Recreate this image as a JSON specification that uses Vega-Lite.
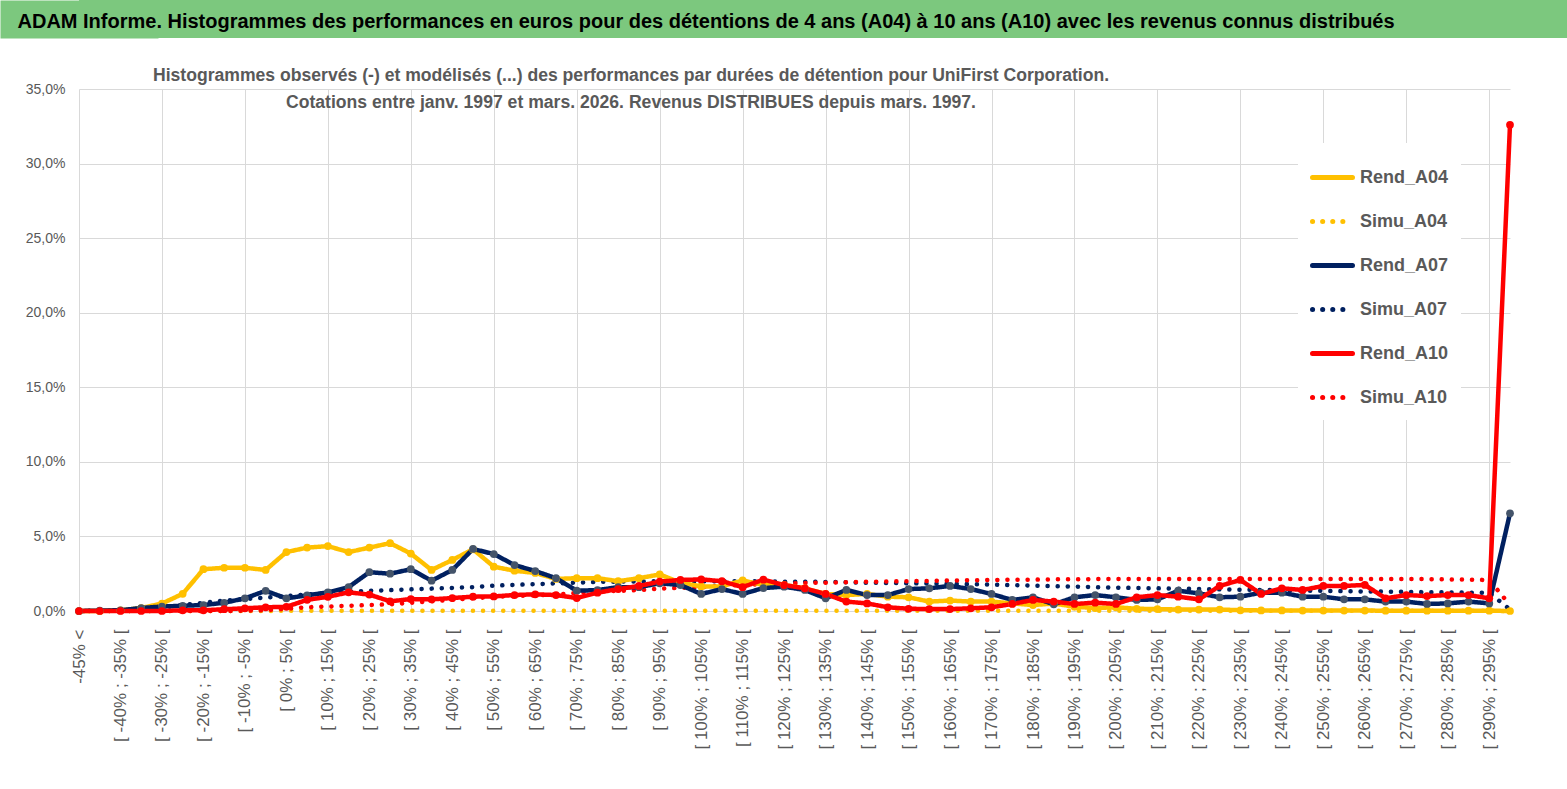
{
  "$schema": "https://vega.github.io/schema/vega-lite/v6.json",
  "padding": 0,
  "background": "white",
  "spacing": 29,
  "config": {
    "view": {"stroke": null},
    "font": "Liberation Sans"
  },
  "vconcat": [
    {
      "width": 1488,
      "height": 38,
      "view": {"fill": "#7CC87E", "stroke": null},
      "data": {"values": [{"t": "ADAM Informe. Histogrammes des performances en euros pour des détentions de 4 ans (A04) à 10 ans (A10) avec les revenus connus distribués"}]},
      "mark": {"type": "text", "align": "left", "baseline": "middle", "dx": -805.5, "dy": 3, "font": "Liberation Sans", "fontWeight": "bold", "fontSize": 20, "color": "black"},
      "encoding": {
        "text": {"field": "t"},
        "y": {
          "field": "t",
          "type": "nominal",
          "axis": {"title": null, "labels": false, "ticks": false, "grid": false, "domain": true, "domainColor": "#7CC87E", "domainWidth": 158, "minExtent": 79, "maxExtent": 79}
        }
      }
    },
    {
      "width": 1431,
      "height": 522,
      "title": {
        "text": ["Histogrammes observés (-) et modélisés (...) des performances par durées de détention pour UniFirst Corporation.", "Cotations entre janv. 1997 et mars. 2026. Revenus DISTRIBUES depuis mars. 1997."],
        "anchor": "start",
        "align": "center",
        "dx": 631,
        "offset": -30,
        "font": "Liberation Sans",
        "fontSize": 17.6,
        "fontWeight": "bold",
        "color": "#595959",
        "lineHeight": 27
      },
      "data": {"values": [
        {"c": "-45% <", "Rend_A04": 0, "Simu_A04": 0, "Rend_A07": 0, "Simu_A07": 0, "Rend_A10": 0, "Simu_A10": 0},
        {"c": "[ -45% ; -40% [", "Rend_A04": 0, "Simu_A04": 0, "Rend_A07": 0.03, "Simu_A07": 0.02, "Rend_A10": 0, "Simu_A10": 0},
        {"c": "[ -40% ; -35% [", "Rend_A04": 0.05, "Simu_A04": 0, "Rend_A07": 0.05, "Simu_A07": 0.05, "Rend_A10": 0, "Simu_A10": 0},
        {"c": "[ -35% ; -30% [", "Rend_A04": 0.2, "Simu_A04": 0, "Rend_A07": 0.2, "Simu_A07": 0.15, "Rend_A10": 0, "Simu_A10": 0},
        {"c": "[ -30% ; -25% [", "Rend_A04": 0.5, "Simu_A04": 0, "Rend_A07": 0.3, "Simu_A07": 0.25, "Rend_A10": 0, "Simu_A10": 0},
        {"c": "[ -25% ; -20% [", "Rend_A04": 1.15, "Simu_A04": 0, "Rend_A07": 0.35, "Simu_A07": 0.4, "Rend_A10": 0.05, "Simu_A10": 0},
        {"c": "[ -20% ; -15% [", "Rend_A04": 2.8, "Simu_A04": 0, "Rend_A07": 0.4, "Simu_A07": 0.55, "Rend_A10": 0.05, "Simu_A10": 0},
        {"c": "[ -15% ; -10% [", "Rend_A04": 2.9, "Simu_A04": 0, "Rend_A07": 0.55, "Simu_A07": 0.7, "Rend_A10": 0.12, "Simu_A10": 0},
        {"c": "[ -10% ; -5% [", "Rend_A04": 2.9, "Simu_A04": 0, "Rend_A07": 0.85, "Simu_A07": 0.8, "Rend_A10": 0.18, "Simu_A10": 0.02},
        {"c": "[ -5% ; 0% [", "Rend_A04": 2.75, "Simu_A04": 0, "Rend_A07": 1.35, "Simu_A07": 0.9, "Rend_A10": 0.25, "Simu_A10": 0.05},
        {"c": "[ 0% ; 5% [", "Rend_A04": 3.95, "Simu_A04": 0.02, "Rend_A07": 0.85, "Simu_A07": 1.0, "Rend_A10": 0.28, "Simu_A10": 0.15},
        {"c": "[ 5% ; 10% [", "Rend_A04": 4.25, "Simu_A04": 0.02, "Rend_A07": 1.05, "Simu_A07": 1.1, "Rend_A10": 0.75, "Simu_A10": 0.25},
        {"c": "[ 10% ; 15% [", "Rend_A04": 4.35, "Simu_A04": 0.02, "Rend_A07": 1.25, "Simu_A07": 1.2, "Rend_A10": 0.95, "Simu_A10": 0.3},
        {"c": "[ 15% ; 20% [", "Rend_A04": 3.95, "Simu_A04": 0.02, "Rend_A07": 1.6, "Simu_A07": 1.3, "Rend_A10": 1.25, "Simu_A10": 0.35},
        {"c": "[ 20% ; 25% [", "Rend_A04": 4.25, "Simu_A04": 0.02, "Rend_A07": 2.6, "Simu_A07": 1.35, "Rend_A10": 1.1, "Simu_A10": 0.4},
        {"c": "[ 25% ; 30% [", "Rend_A04": 4.55, "Simu_A04": 0.02, "Rend_A07": 2.5, "Simu_A07": 1.4, "Rend_A10": 0.65, "Simu_A10": 0.45},
        {"c": "[ 30% ; 35% [", "Rend_A04": 3.85, "Simu_A04": 0.02, "Rend_A07": 2.8, "Simu_A07": 1.45, "Rend_A10": 0.8, "Simu_A10": 0.55},
        {"c": "[ 35% ; 40% [", "Rend_A04": 2.75, "Simu_A04": 0.02, "Rend_A07": 2.03, "Simu_A07": 1.5, "Rend_A10": 0.78, "Simu_A10": 0.65},
        {"c": "[ 40% ; 45% [", "Rend_A04": 3.42, "Simu_A04": 0.02, "Rend_A07": 2.75, "Simu_A07": 1.55, "Rend_A10": 0.87, "Simu_A10": 0.75},
        {"c": "[ 45% ; 50% [", "Rend_A04": 4.14, "Simu_A04": 0.02, "Rend_A07": 4.16, "Simu_A07": 1.6, "Rend_A10": 0.96, "Simu_A10": 0.85},
        {"c": "[ 50% ; 55% [", "Rend_A04": 2.97, "Simu_A04": 0.02, "Rend_A07": 3.82, "Simu_A07": 1.7, "Rend_A10": 0.98, "Simu_A10": 0.95},
        {"c": "[ 55% ; 60% [", "Rend_A04": 2.7, "Simu_A04": 0.02, "Rend_A07": 3.08, "Simu_A07": 1.75, "Rend_A10": 1.07, "Simu_A10": 1.0},
        {"c": "[ 60% ; 65% [", "Rend_A04": 2.55, "Simu_A04": 0.02, "Rend_A07": 2.68, "Simu_A07": 1.8, "Rend_A10": 1.12, "Simu_A10": 1.05},
        {"c": "[ 65% ; 70% [", "Rend_A04": 2.15, "Simu_A04": 0.02, "Rend_A07": 2.2, "Simu_A07": 1.85, "Rend_A10": 1.07, "Simu_A10": 1.1},
        {"c": "[ 70% ; 75% [", "Rend_A04": 2.2, "Simu_A04": 0.02, "Rend_A07": 1.36, "Simu_A07": 1.9, "Rend_A10": 0.87, "Simu_A10": 1.2},
        {"c": "[ 75% ; 80% [", "Rend_A04": 2.2, "Simu_A04": 0.02, "Rend_A07": 1.4, "Simu_A07": 1.95, "Rend_A10": 1.23, "Simu_A10": 1.3},
        {"c": "[ 80% ; 85% [", "Rend_A04": 2.0, "Simu_A04": 0.02, "Rend_A07": 1.6, "Simu_A07": 1.97, "Rend_A10": 1.47, "Simu_A10": 1.35},
        {"c": "[ 85% ; 90% [", "Rend_A04": 2.2, "Simu_A04": 0.02, "Rend_A07": 1.6, "Simu_A07": 1.98, "Rend_A10": 1.68, "Simu_A10": 1.4},
        {"c": "[ 90% ; 95% [", "Rend_A04": 2.45, "Simu_A04": 0.02, "Rend_A07": 1.86, "Simu_A07": 2.0, "Rend_A10": 1.97, "Simu_A10": 1.5},
        {"c": "[ 95% ; 100% [", "Rend_A04": 1.9, "Simu_A04": 0.02, "Rend_A07": 1.74, "Simu_A07": 2.0, "Rend_A10": 2.08, "Simu_A10": 1.55},
        {"c": "[ 100% ; 105% [", "Rend_A04": 1.65, "Simu_A04": 0.02, "Rend_A07": 1.14, "Simu_A07": 2.0, "Rend_A10": 2.12, "Simu_A10": 1.6},
        {"c": "[ 105% ; 110% [", "Rend_A04": 1.65, "Simu_A04": 0.02, "Rend_A07": 1.47, "Simu_A07": 2.0, "Rend_A10": 2.0, "Simu_A10": 1.7},
        {"c": "[ 110% ; 115% [", "Rend_A04": 2.05, "Simu_A04": 0.02, "Rend_A07": 1.14, "Simu_A07": 2.0, "Rend_A10": 1.6, "Simu_A10": 1.75},
        {"c": "[ 115% ; 120% [", "Rend_A04": 1.74, "Simu_A04": 0.02, "Rend_A07": 1.54, "Simu_A07": 1.98, "Rend_A10": 2.1, "Simu_A10": 1.8},
        {"c": "[ 120% ; 125% [", "Rend_A04": 1.74, "Simu_A04": 0.02, "Rend_A07": 1.63, "Simu_A07": 1.97, "Rend_A10": 1.74, "Simu_A10": 1.85},
        {"c": "[ 125% ; 130% [", "Rend_A04": 1.52, "Simu_A04": 0.02, "Rend_A07": 1.41, "Simu_A07": 1.96, "Rend_A10": 1.52, "Simu_A10": 1.88},
        {"c": "[ 130% ; 135% [", "Rend_A04": 1.14, "Simu_A04": 0.02, "Rend_A07": 0.85, "Simu_A07": 1.95, "Rend_A10": 1.14, "Simu_A10": 1.9},
        {"c": "[ 135% ; 140% [", "Rend_A04": 1.07, "Simu_A04": 0.02, "Rend_A07": 1.41, "Simu_A07": 1.93, "Rend_A10": 0.63, "Simu_A10": 1.93},
        {"c": "[ 140% ; 145% [", "Rend_A04": 1.14, "Simu_A04": 0.02, "Rend_A07": 1.07, "Simu_A07": 1.9, "Rend_A10": 0.51, "Simu_A10": 1.96},
        {"c": "[ 145% ; 150% [", "Rend_A04": 0.96, "Simu_A04": 0.02, "Rend_A07": 1.07, "Simu_A07": 1.88, "Rend_A10": 0.25, "Simu_A10": 1.98},
        {"c": "[ 150% ; 155% [", "Rend_A04": 0.92, "Simu_A04": 0.02, "Rend_A07": 1.47, "Simu_A07": 1.86, "Rend_A10": 0.15, "Simu_A10": 2.0},
        {"c": "[ 155% ; 160% [", "Rend_A04": 0.63, "Simu_A04": 0.02, "Rend_A07": 1.52, "Simu_A07": 1.84, "Rend_A10": 0.13, "Simu_A10": 2.02},
        {"c": "[ 160% ; 165% [", "Rend_A04": 0.7, "Simu_A04": 0.02, "Rend_A07": 1.68, "Simu_A07": 1.82, "Rend_A10": 0.13, "Simu_A10": 2.04},
        {"c": "[ 165% ; 170% [", "Rend_A04": 0.63, "Simu_A04": 0.02, "Rend_A07": 1.47, "Simu_A07": 1.8, "Rend_A10": 0.18, "Simu_A10": 2.06},
        {"c": "[ 170% ; 175% [", "Rend_A04": 0.63, "Simu_A04": 0.02, "Rend_A07": 1.14, "Simu_A07": 1.77, "Rend_A10": 0.25, "Simu_A10": 2.08},
        {"c": "[ 175% ; 180% [", "Rend_A04": 0.51, "Simu_A04": 0.02, "Rend_A07": 0.74, "Simu_A07": 1.74, "Rend_A10": 0.47, "Simu_A10": 2.1},
        {"c": "[ 180% ; 185% [", "Rend_A04": 0.4, "Simu_A04": 0.02, "Rend_A07": 0.92, "Simu_A07": 1.7, "Rend_A10": 0.74, "Simu_A10": 2.1},
        {"c": "[ 185% ; 190% [", "Rend_A04": 0.5, "Simu_A04": 0.02, "Rend_A07": 0.45, "Simu_A07": 1.67, "Rend_A10": 0.63, "Simu_A10": 2.12},
        {"c": "[ 190% ; 195% [", "Rend_A04": 0.29, "Simu_A04": 0.02, "Rend_A07": 0.92, "Simu_A07": 1.64, "Rend_A10": 0.47, "Simu_A10": 2.13},
        {"c": "[ 195% ; 200% [", "Rend_A04": 0.2, "Simu_A04": 0.02, "Rend_A07": 1.07, "Simu_A07": 1.6, "Rend_A10": 0.56, "Simu_A10": 2.14},
        {"c": "[ 200% ; 205% [", "Rend_A04": 0.25, "Simu_A04": 0.02, "Rend_A07": 0.92, "Simu_A07": 1.57, "Rend_A10": 0.47, "Simu_A10": 2.14},
        {"c": "[ 205% ; 210% [", "Rend_A04": 0.15, "Simu_A04": 0.02, "Rend_A07": 0.74, "Simu_A07": 1.54, "Rend_A10": 0.92, "Simu_A10": 2.15},
        {"c": "[ 210% ; 215% [", "Rend_A04": 0.13, "Simu_A04": 0.02, "Rend_A07": 0.78, "Simu_A07": 1.52, "Rend_A10": 1.07, "Simu_A10": 2.15},
        {"c": "[ 215% ; 220% [", "Rend_A04": 0.1, "Simu_A04": 0.02, "Rend_A07": 1.36, "Simu_A07": 1.5, "Rend_A10": 0.96, "Simu_A10": 2.15},
        {"c": "[ 220% ; 225% [", "Rend_A04": 0.1, "Simu_A04": 0.02, "Rend_A07": 1.18, "Simu_A07": 1.47, "Rend_A10": 0.78, "Simu_A10": 2.15},
        {"c": "[ 225% ; 230% [", "Rend_A04": 0.1, "Simu_A04": 0.02, "Rend_A07": 0.92, "Simu_A07": 1.45, "Rend_A10": 1.68, "Simu_A10": 2.15},
        {"c": "[ 230% ; 235% [", "Rend_A04": 0.05, "Simu_A04": 0.02, "Rend_A07": 0.96, "Simu_A07": 1.43, "Rend_A10": 2.08, "Simu_A10": 2.15},
        {"c": "[ 235% ; 240% [", "Rend_A04": 0.04, "Simu_A04": 0.02, "Rend_A07": 1.23, "Simu_A07": 1.41, "Rend_A10": 1.14, "Simu_A10": 2.15},
        {"c": "[ 240% ; 245% [", "Rend_A04": 0.04, "Simu_A04": 0.02, "Rend_A07": 1.23, "Simu_A07": 1.39, "Rend_A10": 1.52, "Simu_A10": 2.15},
        {"c": "[ 245% ; 250% [", "Rend_A04": 0.03, "Simu_A04": 0.02, "Rend_A07": 0.96, "Simu_A07": 1.37, "Rend_A10": 1.41, "Simu_A10": 2.15},
        {"c": "[ 250% ; 255% [", "Rend_A04": 0.03, "Simu_A04": 0.02, "Rend_A07": 0.96, "Simu_A07": 1.35, "Rend_A10": 1.68, "Simu_A10": 2.15},
        {"c": "[ 255% ; 260% [", "Rend_A04": 0.03, "Simu_A04": 0.02, "Rend_A07": 0.78, "Simu_A07": 1.33, "Rend_A10": 1.68, "Simu_A10": 2.15},
        {"c": "[ 260% ; 265% [", "Rend_A04": 0.03, "Simu_A04": 0.02, "Rend_A07": 0.78, "Simu_A07": 1.31, "Rend_A10": 1.75, "Simu_A10": 2.15},
        {"c": "[ 265% ; 270% [", "Rend_A04": 0.02, "Simu_A04": 0.02, "Rend_A07": 0.63, "Simu_A07": 1.3, "Rend_A10": 0.85, "Simu_A10": 2.15},
        {"c": "[ 270% ; 275% [", "Rend_A04": 0.02, "Simu_A04": 0.02, "Rend_A07": 0.63, "Simu_A07": 1.28, "Rend_A10": 1.07, "Simu_A10": 2.15},
        {"c": "[ 275% ; 280% [", "Rend_A04": 0.02, "Simu_A04": 0.02, "Rend_A07": 0.47, "Simu_A07": 1.26, "Rend_A10": 1.0, "Simu_A10": 2.14},
        {"c": "[ 280% ; 285% [", "Rend_A04": 0.02, "Simu_A04": 0.02, "Rend_A07": 0.51, "Simu_A07": 1.25, "Rend_A10": 1.07, "Simu_A10": 2.12},
        {"c": "[ 285% ; 290% [", "Rend_A04": 0.02, "Simu_A04": 0.02, "Rend_A07": 0.63, "Simu_A07": 1.23, "Rend_A10": 1.07, "Simu_A10": 2.1},
        {"c": "[ 290% ; 295% [", "Rend_A04": 0.02, "Simu_A04": 0.02, "Rend_A07": 0.51, "Simu_A07": 1.22, "Rend_A10": 0.85, "Simu_A10": 2.08},
        {"c": "[ 295% ; 300% [", "Rend_A04": 0, "Simu_A04": 0, "Rend_A07": 6.55, "Simu_A07": 0.1, "Rend_A10": 32.6, "Simu_A10": 0.4}
      ]},
      "transform": [
        {"fold": ["Rend_A04", "Simu_A04", "Rend_A07", "Simu_A07", "Rend_A10", "Simu_A10"], "as": ["serie", "v"]}
      ],
      "encoding": {
        "x": {
          "field": "c",
          "type": "ordinal",
          "sort": null,
          "scale": {"type": "point", "padding": 0},
          "axis": {
            "title": null,
            "values": ["-45% <", "[ -40% ; -35% [", "[ -30% ; -25% [", "[ -20% ; -15% [", "[ -10% ; -5% [", "[ 0% ; 5% [", "[ 10% ; 15% [", "[ 20% ; 25% [", "[ 30% ; 35% [", "[ 40% ; 45% [", "[ 50% ; 55% [", "[ 60% ; 65% [", "[ 70% ; 75% [", "[ 80% ; 85% [", "[ 90% ; 95% [", "[ 100% ; 105% [", "[ 110% ; 115% [", "[ 120% ; 125% [", "[ 130% ; 135% [", "[ 140% ; 145% [", "[ 150% ; 155% [", "[ 160% ; 165% [", "[ 170% ; 175% [", "[ 180% ; 185% [", "[ 190% ; 195% [", "[ 200% ; 205% [", "[ 210% ; 215% [", "[ 220% ; 225% [", "[ 230% ; 235% [", "[ 240% ; 245% [", "[ 250% ; 255% [", "[ 260% ; 265% [", "[ 270% ; 275% [", "[ 280% ; 285% [", "[ 290% ; 295% ["],
            "labelAngle": 270,
            "labelAlign": "right",
            "labelBaseline": "middle",
            "labelFont": "Liberation Sans",
            "labelFontSize": 17,
            "labelColor": "#595959",
            "labelPadding": 18,
            "labelOverlap": false,
            "labelBound": false,
            "ticks": false,
            "domain": false,
            "grid": true,
            "gridColor": "#D9D9D9",
            "gridWidth": 1,
            "gridOpacity": {
              "condition": {
                "test": "indexof(['-45% <', '[ -30% ; -25% [', '[ -10% ; -5% [', '[ 10% ; 15% [', '[ 30% ; 35% [', '[ 50% ; 55% [', '[ 70% ; 75% [', '[ 90% ; 95% [', '[ 110% ; 115% [', '[ 130% ; 135% [', '[ 150% ; 155% [', '[ 170% ; 175% [', '[ 190% ; 195% [', '[ 210% ; 215% [', '[ 230% ; 235% [', '[ 250% ; 255% [', '[ 270% ; 275% [', '[ 290% ; 295% ['], datum.value) >= 0",
                "value": 1
              },
              "value": 0
            }
          }
        },
        "y": {
          "field": "v",
          "type": "quantitative",
          "scale": {"domain": [0, 35], "nice": false},
          "axis": {
            "title": null,
            "values": [0, 5, 10, 15, 20, 25, 30, 35],
            "labelExpr": "replace(format(datum.value, '.1f'), '.', ',') + '%'",
            "labelFont": "Liberation Sans",
            "labelFontSize": 14,
            "labelColor": "#595959",
            "labelPadding": 14,
            "domain": false,
            "ticks": false,
            "grid": true,
            "gridColor": "#D9D9D9",
            "gridWidth": 1,
            "minExtent": 79,
            "maxExtent": 79
          }
        }
      },
      "layer": [
        {
          "transform": [{"filter": "indexof(datum.serie, 'Simu') == 0"}],
          "mark": {"type": "line", "strokeWidth": 4.5, "strokeCap": "round"},
          "encoding": {
            "stroke": {
              "field": "serie",
              "type": "nominal",
              "scale": {"domain": ["Rend_A04", "Simu_A04", "Rend_A07", "Simu_A07", "Rend_A10", "Simu_A10"], "range": ["#FFC000", "#FFC000", "#002060", "#002060", "#FF0000", "#FF0000"]},
              "legend": {
                "title": null,
                "orient": "none",
                "legendX": 1219,
                "legendY": 143,
                "fillColor": "white",
                "padding": 12,
                "symbolType": "stroke",
                "symbolSize": 1600,
                "symbolStrokeWidth": 5,
                "rowPadding": 11,
                "labelOffset": 5,
                "labelFont": "Liberation Sans",
                "labelFontWeight": "bold",
                "labelFontSize": 18,
                "labelColor": "#595959",
                "encode": {"symbols": {"update": {"strokeCap": {"value": "round"}}}}
              }
            },
            "strokeDash": {
              "field": "serie",
              "type": "nominal",
              "scale": {"domain": ["Rend_A04", "Simu_A04", "Rend_A07", "Simu_A07", "Rend_A10", "Simu_A10"], "range": [[1, 0], [0.1, 10], [1, 0], [0.1, 10], [1, 0], [0.1, 10]]},
              "legend": {
                "title": null,
                "orient": "none",
                "legendX": 1219,
                "legendY": 143,
                "fillColor": "white",
                "padding": 12,
                "symbolType": "stroke",
                "symbolSize": 1600,
                "symbolStrokeWidth": 5,
                "rowPadding": 11,
                "labelOffset": 5,
                "labelFont": "Liberation Sans",
                "labelFontWeight": "bold",
                "labelFontSize": 18,
                "labelColor": "#595959",
                "encode": {"symbols": {"update": {"strokeCap": {"value": "round"}}}}
              }
            }
          }
        },
        {
          "transform": [{"filter": "indexof(datum.serie, 'Rend') == 0"}],
          "mark": {"type": "line", "strokeWidth": 4.5, "strokeJoin": "round"},
          "encoding": {
            "stroke": {"field": "serie", "type": "nominal"},
            "strokeDash": {"field": "serie", "type": "nominal"}
          }
        },
        {
          "transform": [{"filter": "indexof(datum.serie, 'Rend') == 0"}],
          "mark": {"type": "circle", "size": 60, "opacity": 1},
          "encoding": {
            "fill": {
              "field": "serie",
              "type": "nominal",
              "scale": {"domain": ["Rend_A04", "Rend_A07", "Rend_A10"], "range": ["#FFC000", "#44546A", "#FF0000"]},
              "legend": null
            }
          }
        }
      ]
    }
  ]
}
